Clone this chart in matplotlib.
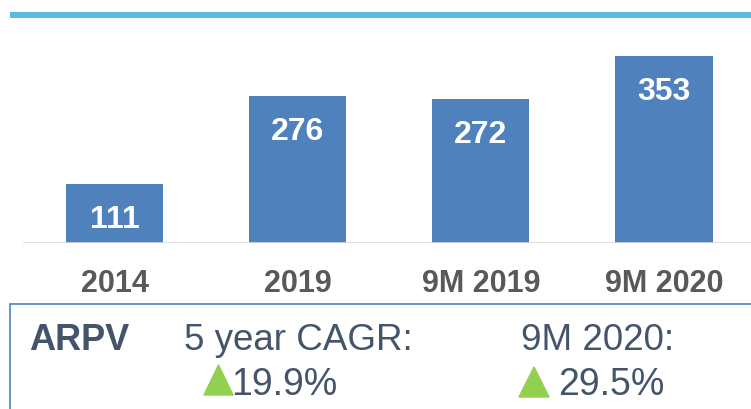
import matplotlib
matplotlib.use("Agg")
import matplotlib.pyplot as plt
from matplotlib.patches import Rectangle, Polygon

plt.rcParams["font.family"] = ["Liberation Sans", "DejaVu Sans"]

# данные
periods = ["2014", "2019", "9M 2019", "9M 2020"]
arpv = [111, 276, 272, 353]
metric_name = "ARPV"
growth_titles = ["5 year CAGR:", "9M 2020:"]
growth_values = ["19.9%", "29.5%"]

W, H = 751, 409
fig = plt.figure(figsize=(W / 100, H / 100), dpi=100)

bar_color = "#4F81BD"
text_dark = "#44546A"
tick_gray = "#595959"


def fx(px):
    return px / W


def fy(py):
    return 1 - py / H


# верхняя голубая полоса
fig.add_artist(Rectangle((fx(10), fy(17.5)), 1.0, 5.5 / H, transform=fig.transFigure,
                         facecolor="#5BBCDD", edgecolor="none"))

# график
ax = fig.add_axes([fx(23), fy(243), fx(751) - fx(23), (243 - 20) / H])
x = range(len(periods))
bars = ax.bar(x, arpv, width=0.53, color=bar_color, zorder=2)
ax.axhline(0, color="#D9D9D9", lw=1.2, zorder=3)
ax.set_xlim(-0.5, 3.475)
ax.set_ylim(0, 420)

for b, v in zip(bars, arpv):
    ax.annotate(str(v), (b.get_x() + b.get_width() / 2, v), xytext=(0, -36),
                textcoords="offset pixels", ha="center", va="center",
                color="white", fontsize=23, fontweight="bold", zorder=4)

ax.set_xticks(list(x))
ax.set_xticklabels(periods, fontsize=22, fontweight="bold", color=tick_gray)
ax.tick_params(axis="x", length=0, pad=18.5)
ax.set_yticks([])
for s in ax.spines.values():
    s.set_visible(False)

# нижняя рамка со сводкой
fig.add_artist(Rectangle((fx(10), -0.1), 1.0, fy(304) + 0.1, transform=fig.transFigure,
                         facecolor="none", edgecolor="#4F81BD", lw=1.2))

fig.text(fx(29), fy(350), metric_name, fontsize=26, fontweight="bold",
         color=text_dark, va="baseline", ha="left")
fig.text(fx(184), fy(350), growth_titles[0], fontsize=26.5, color=text_dark,
         va="baseline", ha="left")
fig.text(fx(521), fy(350), growth_titles[1], fontsize=26.5, color=text_dark,
         va="baseline", ha="left")

tri_pos = [(204, 233, 365, 395), (519, 549, 367, 397)]
val_x = [231, 558]
for (x0, x1, y0, y1), vx, val in zip(tri_pos, val_x, growth_values):
    fig.add_artist(Polygon([(fx(x0), fy(y1)), (fx(x1), fy(y1)), (fx((x0 + x1) / 2), fy(y0))],
                           closed=True, transform=fig.transFigure,
                           facecolor="#92D050", edgecolor="#92D050", lw=1, joinstyle="round"))
    fig.text(fx(vx), fy(395), val, fontsize=27, color=text_dark,
             va="baseline", ha="left")

fig.savefig("out.png", dpi=100)
